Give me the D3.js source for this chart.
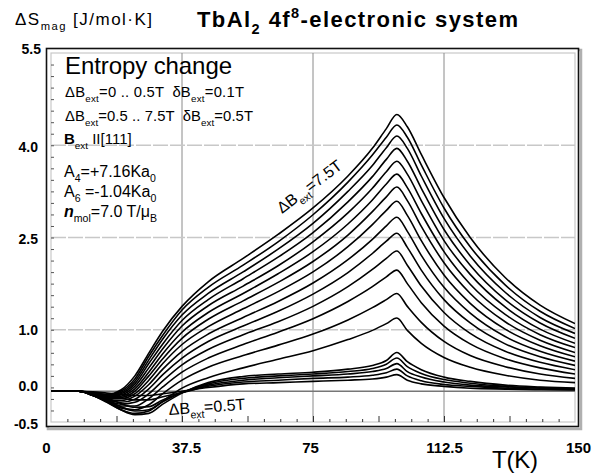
<!DOCTYPE html>
<html><head><meta charset="utf-8">
<script src="https://cdn.jsdelivr.net/npm/d3@7"></script>
<style>body{margin:0;background:#fff}svg{display:block;font-family:"Liberation Sans",Arial,sans-serif}</style>
</head><body><svg id="c" width="601" height="474"></svg>
<script>
// Temperatures (K)
const T = [0, 8, 12, 16, 20, 24, 28, 32, 37.5, 45, 55, 65, 75, 85, 92, 96, 99, 102, 106, 112.5, 120, 130, 140, 150];
// Entropy change curves, ΔS_mag [J/mol·K], one array per field change ΔB_ext (T)
const ds0_1 = [0,0,-0.01,-0.03,-0.05,-0.07,-0.07,-0.04,0.00,0.06,0.12,0.14,0.16,0.18,0.20,0.23,0.27,0.18,0.12,0.08,0.05,0.035,0.025,0.02];
const ds0_2 = [0,0,-0.02,-0.06,-0.11,-0.14,-0.14,-0.09,-0.02,0.08,0.15,0.18,0.21,0.23,0.26,0.30,0.36,0.25,0.17,0.11,0.08,0.05,0.035,0.025];
const ds0_3 = [0,0,-0.04,-0.11,-0.20,-0.26,-0.25,-0.14,-0.02,0.10,0.18,0.22,0.25,0.28,0.32,0.37,0.45,0.32,0.23,0.15,0.10,0.07,0.05,0.035];
const ds0_4 = [0,0,-0.05,-0.14,-0.25,-0.32,-0.30,-0.17,-0.02,0.12,0.21,0.25,0.28,0.32,0.37,0.44,0.54,0.40,0.29,0.19,0.13,0.08,0.06,0.04];
const ds0_5 = [0,0,-0.06,-0.17,-0.30,-0.38,-0.36,-0.21,-0.03,0.14,0.24,0.28,0.31,0.36,0.42,0.50,0.63,0.48,0.35,0.23,0.16,0.10,0.07,0.05];
const ds1_0 = [0,0,-0.07,-0.18,-0.30,-0.36,-0.32,-0.16,0.05,0.22,0.38,0.52,0.66,0.84,0.99,1.10,1.19,0.99,0.78,0.55,0.39,0.26,0.18,0.14];
const ds1_5 = [0,0,-0.07,-0.17,-0.27,-0.30,-0.22,-0.04,0.18,0.39,0.58,0.75,0.93,1.16,1.36,1.49,1.59,1.38,1.12,0.81,0.58,0.40,0.28,0.21];
const ds2_0 = [0,0,-0.07,-0.16,-0.24,-0.24,-0.12,0.07,0.31,0.54,0.76,0.96,1.18,1.46,1.70,1.86,1.97,1.75,1.44,1.06,0.77,0.53,0.38,0.28];
const ds2_5 = [0,0,-0.07,-0.15,-0.21,-0.18,-0.04,0.17,0.43,0.68,0.92,1.13,1.38,1.70,1.98,2.16,2.28,2.05,1.71,1.28,0.94,0.65,0.47,0.35];
const ds3_0 = [0,0,-0.06,-0.14,-0.18,-0.13,0.04,0.27,0.54,0.81,1.06,1.30,1.58,1.93,2.24,2.44,2.57,2.34,1.97,1.49,1.11,0.77,0.56,0.42];
const ds3_5 = [0,0,-0.06,-0.13,-0.15,-0.08,0.11,0.36,0.65,0.93,1.20,1.46,1.76,2.14,2.47,2.69,2.83,2.60,2.21,1.69,1.27,0.89,0.65,0.49];
const ds4_0 = [0,0,-0.06,-0.12,-0.12,-0.04,0.18,0.45,0.76,1.05,1.34,1.62,1.94,2.35,2.71,2.94,3.09,2.86,2.45,1.89,1.43,1.01,0.74,0.56];
const ds4_5 = [0,0,-0.05,-0.11,-0.10,0.00,0.25,0.53,0.86,1.17,1.47,1.77,2.11,2.54,2.92,3.16,3.32,3.10,2.68,2.09,1.59,1.13,0.83,0.63];
const ds5_0 = [0,0,-0.05,-0.10,-0.08,0.04,0.31,0.61,0.96,1.28,1.59,1.91,2.27,2.72,3.11,3.37,3.53,3.31,2.89,2.27,1.74,1.25,0.92,0.71];
const ds5_5 = [0,0,-0.05,-0.09,-0.06,0.08,0.38,0.69,1.06,1.39,1.71,2.04,2.43,2.90,3.30,3.57,3.74,3.53,3.10,2.45,1.90,1.37,1.01,0.78];
const ds6_0 = [0,0,-0.04,-0.08,-0.04,0.12,0.45,0.77,1.15,1.49,1.83,2.18,2.58,3.08,3.49,3.77,3.95,3.74,3.30,2.63,2.05,1.49,1.11,0.86];
const ds6_5 = [0,0,-0.04,-0.07,-0.02,0.16,0.51,0.85,1.24,1.59,1.94,2.31,2.73,3.25,3.67,3.96,4.15,3.95,3.50,2.81,2.20,1.61,1.20,0.94];
const ds7_0 = [0,0,-0.03,-0.06,0.00,0.20,0.57,0.91,1.32,1.69,2.05,2.43,2.87,3.40,3.84,4.13,4.33,4.13,3.68,2.98,2.35,1.73,1.30,1.02];
const ds7_5 = [0,0,-0.03,-0.05,0.02,0.25,0.62,0.98,1.38,1.78,2.16,2.55,2.98,3.50,3.95,4.27,4.50,4.30,3.85,3.15,2.50,1.85,1.40,1.10];
const fields = [0.1,0.2,0.3,0.4,0.5,1.0,1.5,2.0,2.5,3.0,3.5,4.0,4.5,5.0,5.5,6.0,6.5,7.0,7.5];
const curves = [ds0_1,ds0_2,ds0_3,ds0_4,ds0_5,ds1_0,ds1_5,ds2_0,ds2_5,ds3_0,ds3_5,ds4_0,ds4_5,ds5_0,ds5_5,ds6_0,ds6_5,ds7_0,ds7_5];
// Axis labels
const xTickLabels = ["0","37.5","75","112.5","150"];
const xTickValues = [0,37.5,75,112.5,150];
const yTickLabels = ["5.5","4.0","2.5","1.0","0.0","-0.5"];
const yTickValues = [5.5,4.0,2.5,1.0,0.0,-0.5];

const svg = d3.select("#c");
const L=51,R=575,Tp=53,B=422;
const x = d3.scaleLinear().domain([0,150]).range([L,R]);
const y = d3.scaleLinear().domain([-0.5,5.5]).range([B,Tp]);

// frame with shadow
svg.append("rect").attr("x",48).attr("y",50).attr("width",533).attr("height",379).attr("fill","none").attr("stroke","#b0b0b0").attr("stroke-width",2.5);
svg.append("rect").attr("x",46.5).attr("y",48.5).attr("width",532).attr("height",378).attr("fill","#fff").attr("stroke","#111").attr("stroke-width",1.6);
svg.append("rect").attr("x",L).attr("y",Tp).attr("width",R-L).attr("height",B-Tp).attr("fill","none").attr("stroke","#c8c8c8").attr("stroke-width",1.2);

// grid
const g = svg.append("g");
[37.5,75,112.5].forEach(v=>g.append("line").attr("x1",x(v)).attr("x2",x(v)).attr("y1",Tp).attr("y2",B).attr("stroke","#8a8a8a").attr("stroke-width",1));
[4.0,2.5,1.0].forEach(v=>g.append("line").attr("x1",L).attr("x2",R).attr("y1",y(v)).attr("y2",y(v)).attr("stroke","#c8c8c8").attr("stroke-width",1.6).attr("stroke-dasharray","15,2"));
g.append("line").attr("x1",L).attr("x2",R).attr("y1",y(0)).attr("y2",y(0)).attr("stroke","#777").attr("stroke-width",1.3);

// ticks: inward, 32 intervals
const xt = d3.range(0,33).map(i=>i*150/32);
const yt = d3.range(0,33).map(i=>-0.5+i*6/32);
svg.append("g").attr("transform",`translate(0,${B})`).call(d3.axisTop(x).tickValues(xt.slice(1,-1)).tickFormat("").tickSizeOuter(0).tickSize(3))
  .call(a=>{a.select(".domain").remove();a.selectAll(".tick line").attr("stroke","#333").attr("y2",(d,i)=>((i+1)%4===0)?-6:-3);});
svg.append("g").attr("transform",`translate(${L},0)`).call(d3.axisRight(y).tickValues(yt.slice(1,-1)).tickFormat("").tickSizeOuter(0).tickSize(3))
  .call(a=>{a.select(".domain").remove();a.selectAll(".tick line").attr("stroke","#555");});

// curves
const line = d3.line().x((d,i)=>x(T[i])).y(d=>y(d)).curve(d3.curveMonotoneX);
svg.append("clipPath").attr("id","pc").append("rect").attr("x",L).attr("y",Tp).attr("width",R-L).attr("height",B-Tp);
svg.append("g").attr("clip-path","url(#pc)").selectAll("path").data(curves).join("path")
  .attr("d",line).attr("fill","none").attr("stroke","#000").attr("stroke-width",1.6).attr("stroke-linejoin","round");

// axis labels
const xdx = [-5,4,-3,0,3];
const xl = d3.axisBottom(x).tickValues(xTickValues).tickFormat((d,i)=>xTickLabels[i]).tickSize(0);
svg.append("g").attr("transform",`translate(0,${B})`).call(xl).call(a=>{a.select(".domain").remove();
  a.selectAll("text").attr("font-size",15).attr("font-family","Liberation Sans, Arial, sans-serif").attr("fill","#000").attr("dy",null).attr("y",31).attr("dx",(d,i)=>xdx[i]).attr("font-weight","bold");});
svg.append("g").selectAll("text").data(yTickValues).join("text")
  .attr("x",(d,i)=>i===0?41:38).attr("y",d=>({5.5:54,4:152,2.5:244,1:335,0:391,"-0.5":429})[d])
  .attr("text-anchor","end").attr("font-size",14).attr("font-weight","bold").text((d,i)=>yTickLabels[i]);

function rich(parent, xx, yy, size, parts, attrs){
  const t = parent.append("text").attr("x",xx).attr("y",yy).attr("font-size",size);
  if(attrs) Object.entries(attrs).forEach(([k,v])=>t.attr(k,v));
  let shift=0;
  parts.forEach(p=>{
    const s = t.append("tspan").text(p.t);
    const want = p.sub? size*0.32 : p.sup? -size*0.4 : 0;
    let dy = want-shift;
    if(dy!==0){ s.attr("dy",dy); shift=want; }
    if(p.dx) s.attr("dx",p.dx);
    if(p.sub||p.sup) s.attr("font-size",size*0.66);
    if(p.b) s.attr("font-weight","bold");
    if(p.i) s.attr("font-style","italic");
  });
  return t;
}
// fit a text horizontally between x0 and x1 via position + letter-spacing
function fit(t, x0, x1){
  const n = t.text().length;
  let bb = t.node().getBBox();
  const ls = (x1-x0-bb.width)/Math.max(1,n-1);
  t.attr("letter-spacing",ls);
  bb = t.node().getBBox();
  t.attr("x", +t.attr("x") + (x0-bb.x));
  return t;
}
// header
fit(rich(svg,15,25,17,[{t:"ΔS"},{t:"mag",sub:true},{t:" [J/mol·K]"}]),15,152);
fit(rich(svg,197,27,22,[{t:"TbAl"},{t:"2",sub:true},{t:" 4f"},{t:"8",sup:true},{t:"-electronic system"}],{"font-weight":"bold"}),197,518);
fit(svg.append("text").attr("x",492).attr("y",468).attr("font-size",24).text("T(K)"),492,538);

// legend block
fit(svg.append("text").attr("x",64).attr("y",74).attr("font-size",24).text("Entropy change"),65,232);
fit(rich(svg,64,97,14.8,[{t:"ΔB"},{t:"ext",sub:true},{t:"=0 .. 0.5T"},{t:"δB",dx:8},{t:"ext",sub:true},{t:"=0.1T"}]),65,244);
fit(rich(svg,64,121,14.8,[{t:"ΔB"},{t:"ext",sub:true},{t:"=0.5 .. 7.5T"},{t:"δB",dx:8},{t:"ext",sub:true},{t:"=0.5T"}]),65,253);
rich(svg,64,144,15,[{t:"B",b:true},{t:"ext",sub:true},{t:" II[111]"}]);
rich(svg,64,177,16,[{t:"A"},{t:"4",sub:true},{t:"=+7.16Ka"},{t:"0",sub:true}]);
rich(svg,64,197,16,[{t:"A"},{t:"6",sub:true},{t:" =-1.04Ka"},{t:"0",sub:true}]);
rich(svg,64,217,16,[{t:"n",i:true,b:true},{t:"mol",sub:true},{t:"=7.0 T/μ"},{t:"B",sub:true}]);

// annotations
rich(svg,0,0,16,[{t:"ΔB"},{t:"ext",sub:true},{t:"=7.5T"}],{transform:"translate(282,214) rotate(-37)"});
rich(svg,0,0,16,[{t:"ΔB"},{t:"ext",sub:true},{t:"=0.5T"}],{transform:"translate(169,415) rotate(-4)"});
</script></body></html>
